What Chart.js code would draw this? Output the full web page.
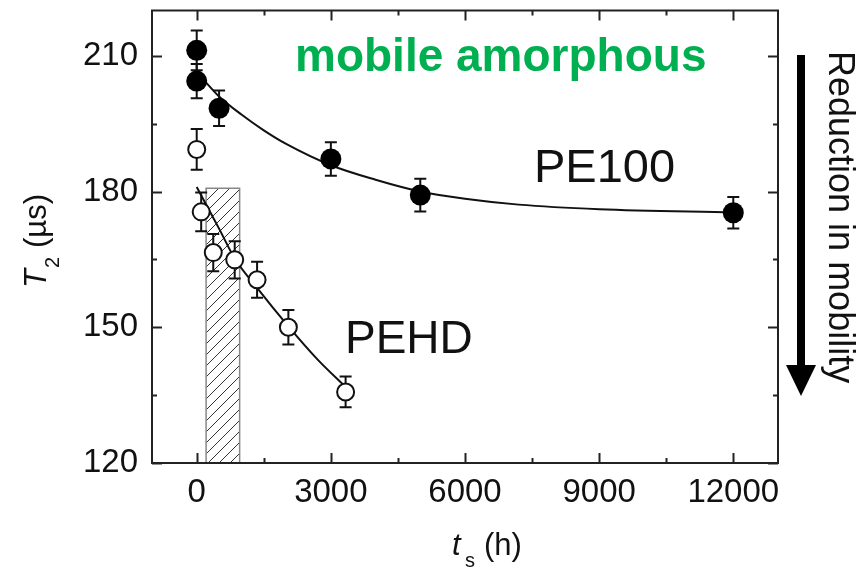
<!DOCTYPE html>
<html>
<head>
<meta charset="utf-8">
<script src="https://cdn.jsdelivr.net/npm/chart.js@4.4.1/dist/chart.umd.min.js"></script>
<style>
html, body { margin: 0; padding: 0; background: #fff; }
</style>
</head>
<body>
<canvas id="t2Chart" width="861" height="570"></canvas>
<script>

// -------------------------------------
// DATA
// -------------------------------------

const pe100Time = [0, 0, 500, 3000, 5000, 12000];
const pe100T2 = [211.2, 204.4, 198.4, 187.2, 179.2, 175.3];
const pe100Err = [4.4, 3.8, 3.9, 3.7, 3.6, 3.5];

const pehdTime = [0, 100, 370, 850, 1350, 2050, 3330];
const pehdT2 = [189.3, 175.5, 166.5, 164.9, 160.5, 150.0, 135.7];
const pehdErr = [4.5, 4.3, 4.1, 4.1, 4.0, 3.8, 3.4];

// fitted decay curves, read at a handful of times
const pe100FitTime = [180, 500, 1000, 1500, 2000, 3000, 4000, 5000, 6000, 7200, 9000, 12000];
const pe100FitT2 = [204.4, 201, 197, 193.5, 190.5, 185.8, 182.6, 180, 178.4, 177.1, 176.1, 175.4];

const pehdFitTime = [0, 250, 500, 850, 1350, 2050, 2700, 3350];
const pehdFitT2 = [181, 176.4, 171.8, 165.2, 158.7, 150.2, 142.9, 136.6];

// hatched band
const bandTime = [210, 960];
const bandTop = 180.7;

const xTicks = [0, 3000, 6000, 9000, 12000];
const xMinorTicks = [1500, 4500, 7500, 10500];
const yTicks = [120, 150, 180, 210];
const yMinorTicks = [135, 165, 195];

const FONT = "'Liberation Sans', Arial, sans-serif";
const INK = "#111";

function pts(xs, ys){
return xs.map((x, i) => ({x: x, y: ys[i]}));
}

function noEdgePadding(s){
s.paddingTop = 0;
s.paddingBottom = 0;
s.paddingLeft = 0;
s.paddingRight = 0;
}


// -------------------------------------
// HATCH PATTERN
// -------------------------------------

function hatchPattern(){

const n = 11;
const c = document.createElement("canvas");
c.width = n;
c.height = n;
const g = c.getContext("2d");
g.strokeStyle = "#333";
g.lineWidth = 1;
g.beginPath();
g.moveTo(0, n); g.lineTo(n, 0);
g.moveTo(-1, 1); g.lineTo(1, -1);
g.moveTo(n - 1, n + 1); g.lineTo(n + 1, n - 1);
g.stroke();
return g.createPattern(c, "repeat");

}


// -------------------------------------
// ERROR BARS (drawn just before each marker set)
// -------------------------------------

const errorBars = {

id: "errorBars",

beforeDatasetDraw(chart, args){

const ds = chart.data.datasets[args.index];
if(!ds.errors) return;

const xs = chart.scales.x;
const ys = chart.scales.y;
const ctx = chart.ctx;

ctx.save();
ctx.strokeStyle = INK;
ctx.lineWidth = 2;

ds.data.forEach((p, i) => {
const px = xs.getPixelForValue(p.x);
const hi = ys.getPixelForValue(p.y + ds.errors[i]);
const lo = ys.getPixelForValue(p.y - ds.errors[i]);
ctx.beginPath();
ctx.moveTo(px, hi); ctx.lineTo(px, lo);
ctx.moveTo(px - 6, hi); ctx.lineTo(px + 6, hi);
ctx.moveTo(px - 6, lo); ctx.lineTo(px + 6, lo);
ctx.stroke();
});

ctx.restore();

}

};


// -------------------------------------
// FRAME, INWARD TICKS, TITLES, NOTES
// -------------------------------------

const frame = {

id: "frame",

afterDraw(chart){

const ctx = chart.ctx;
const a = chart.chartArea;
const xs = chart.scales.x;
const ys = chart.scales.y;

ctx.save();
ctx.strokeStyle = "#222";
ctx.lineWidth = 2;
ctx.strokeRect(a.left, a.top, a.right - a.left, a.bottom - a.top);

ctx.beginPath();
const xt = (v, len) => {
const p = Math.round(xs.getPixelForValue(v)) + 0.5;
ctx.moveTo(p, a.bottom); ctx.lineTo(p, a.bottom - len);
ctx.moveTo(p, a.top); ctx.lineTo(p, a.top + len);
};
const yt = (v, len) => {
const p = Math.round(ys.getPixelForValue(v)) + 0.5;
ctx.moveTo(a.left, p); ctx.lineTo(a.left + len, p);
ctx.moveTo(a.right, p); ctx.lineTo(a.right - len, p);
};
xTicks.forEach(v => xt(v, 10));
xMinorTicks.forEach(v => xt(v, 5));
yTicks.forEach(v => yt(v, 10));
yMinorTicks.forEach(v => yt(v, 5));
ctx.stroke();

// axis titles
ctx.fillStyle = INK;
ctx.textBaseline = "alphabetic";
ctx.textAlign = "left";

ctx.font = "italic 31px " + FONT;
ctx.fillText("t", 452, 555);
ctx.font = "20px " + FONT;
ctx.fillText("s", 465, 567);
ctx.font = "31px " + FONT;
ctx.fillText("(h)", 484, 555);

ctx.save();
ctx.translate(46, 288);
ctx.rotate(-Math.PI / 2);
ctx.font = "italic 31px " + FONT;
ctx.fillText("T", 0, 0);
ctx.font = "20px " + FONT;
ctx.fillText("2", 20, 13);
ctx.font = "31px " + FONT;
ctx.fillText("(\u00b5s)", 40, 0);
ctx.restore();

// notes
ctx.font = "bold 46px " + FONT;
ctx.fillStyle = "#00B050";
ctx.fillText("mobile amorphous", 295, 71);

ctx.fillStyle = INK;
ctx.font = "47px " + FONT;
ctx.fillText("PE100", 534, 182);
ctx.font = "46px " + FONT;
ctx.fillText("PEHD", 345, 353);

ctx.save();
ctx.translate(829, 51);
ctx.rotate(Math.PI / 2);
ctx.font = "36px " + FONT;
ctx.fillText("Reduction in mobility", 0, 0);
ctx.restore();

// arrow
ctx.fillStyle = "#000";
ctx.fillRect(797, 55, 8, 312);
ctx.beginPath();
ctx.moveTo(786, 365);
ctx.lineTo(816, 365);
ctx.lineTo(801, 396);
ctx.closePath();
ctx.fill();

ctx.restore();

}

};


// -------------------------------------
// CHART
// -------------------------------------

const ctx = document.getElementById("t2Chart").getContext("2d");

new Chart(ctx, {

type: "scatter",

data: {
datasets: [
{
label: "band",
type: "line",
data: [
{x: bandTime[0], y: 120},
{x: bandTime[0], y: bandTop},
{x: bandTime[1], y: bandTop},
{x: bandTime[1], y: 120}
],
borderColor: "#888",
borderWidth: 1.5,
backgroundColor: hatchPattern(),
fill: "start",
pointRadius: 0,
tension: 0,
order: 10
},
{
label: "PE100 fit",
type: "line",
data: pts(pe100FitTime, pe100FitT2),
borderColor: INK,
borderWidth: 2,
pointRadius: 0,
fill: false,
cubicInterpolationMode: "monotone",
order: 5
},
{
label: "PEHD fit",
type: "line",
data: pts(pehdFitTime, pehdFitT2),
borderColor: INK,
borderWidth: 2,
pointRadius: 0,
fill: false,
cubicInterpolationMode: "monotone",
order: 5
},
{
label: "PEHD",
data: pts(pehdTime, pehdT2),
errors: pehdErr,
pointRadius: 8.5,
pointBorderWidth: 2,
pointBorderColor: INK,
pointBackgroundColor: "#fff",
order: 2
},
{
label: "PE100",
data: pts(pe100Time, pe100T2),
errors: pe100Err,
pointRadius: 10.5,
pointBorderWidth: 0,
pointBackgroundColor: "#000",
order: 1
}
]
},

options: {
responsive: false,
animation: false,
events: [],
layout: {
padding: {top: 6, right: 83, left: 0, bottom: 0}
},
plugins: {
legend: {display: false},
tooltip: {enabled: false}
},
scales: {
x: {
type: "linear",
min: -1000,
max: 13000,
grid: {display: false, drawTicks: false},
border: {display: false},
ticks: {
font: {family: FONT, size: 33},
color: INK,
padding: 10,
maxRotation: 0,
callback: v => String(v)
},
afterBuildTicks: s => { s.ticks = xTicks.map(v => ({value: v})); },
afterFit: s => { s.height = 107; noEdgePadding(s); }
},
y: {
type: "linear",
min: 120,
max: 220,
grid: {display: false, drawTicks: false},
border: {display: false},
ticks: {
font: {family: FONT, size: 33},
color: INK,
padding: 14,
callback: v => String(v)
},
afterBuildTicks: s => { s.ticks = yTicks.map(v => ({value: v})); },
afterFit: s => { s.width = 152; noEdgePadding(s); }
}
}
},

plugins: [errorBars, frame]

});

</script>
</body>
</html>
